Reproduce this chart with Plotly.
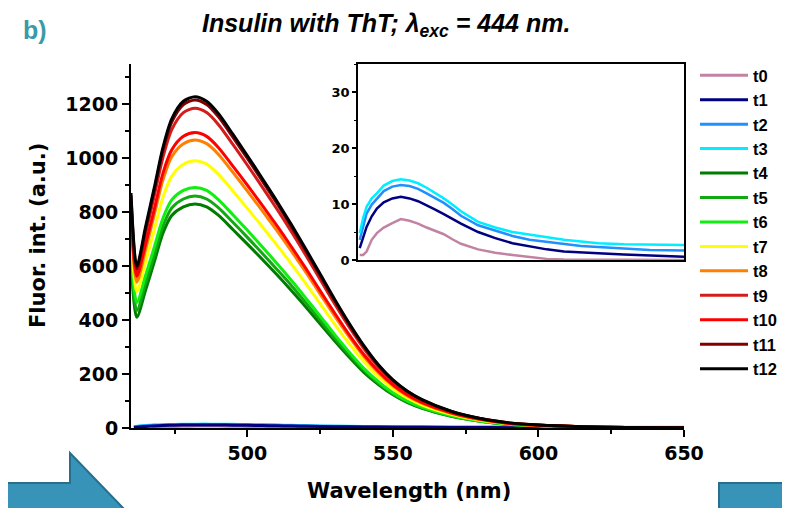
import plotly.graph_objects as go

# ---------------- data ----------------
WL = [460, 462, 465, 468, 471, 474, 478, 482, 486, 490, 495, 500, 505, 510, 515,
      520, 525, 530, 535, 540, 545, 550, 555, 560, 570, 580, 590, 600, 615, 630, 650]

t4 = [620, 410, 510, 615, 722, 787, 819, 830, 819, 788, 735, 681, 626, 569, 510,
      449, 385, 322, 262, 206, 161, 123, 94, 73, 43, 25, 13, 8, 4, 2, 1]
t5 = [650, 435, 535, 640, 748, 815, 848, 859, 848, 816, 762, 706, 648, 589, 529,
      465, 399, 333, 271, 214, 166, 126, 97, 75, 44, 25, 14, 8, 4, 2, 1]
t6 = [680, 465, 565, 670, 778, 845, 880, 891, 880, 846, 790, 732, 672, 611, 548,
      482, 414, 346, 281, 221, 172, 131, 100, 77, 46, 26, 14, 8, 4, 2, 1]
t7 = [730, 505, 615, 735, 855, 933, 977, 990, 977, 940, 878, 813, 747, 679, 609,
      536, 460, 384, 312, 246, 190, 145, 111, 85, 51, 29, 16, 9, 4, 2, 1]
t8 = [780, 540, 660, 790, 920, 1005, 1053, 1067, 1053, 1014, 947, 877, 806, 733, 657,
      578, 496, 414, 337, 265, 205, 156, 119, 92, 54, 31, 17, 10, 5, 2, 1]
t9 = [840, 578, 718, 860, 1003, 1105, 1168, 1184, 1168, 1124, 1050, 973, 894, 813, 729,
      641, 550, 459, 373, 294, 226, 172, 131, 101, 60, 34, 18, 11, 5, 2, 1]
t10 = [800, 562, 680, 810, 945, 1030, 1080, 1094, 1080, 1039, 970, 899, 826, 751, 673,
       592, 508, 425, 345, 272, 210, 160, 122, 94, 56, 32, 17, 10, 5, 2, 1]
t11 = [860, 590, 735, 880, 1030, 1133, 1198, 1215, 1198, 1153, 1077, 998, 917, 834, 747,
       657, 564, 471, 383, 302, 232, 176, 135, 104, 61, 35, 19, 11, 5, 2, 1]
t12 = [870, 600, 745, 890, 1040, 1145, 1210, 1227, 1210, 1165, 1088, 1008, 926, 842, 755,
       664, 570, 476, 387, 305, 234, 178, 136, 105, 62, 35, 19, 11, 5, 2, 1]

WL_LOW = [461, 463, 465, 468, 471, 475, 480, 485, 490, 495, 500, 505, 510, 515, 520,
          530, 540, 550, 560, 570, 580, 590, 600, 615, 630, 650]
t0 = [0.9, 0.9, 1.5, 3.6, 4.8, 5.8, 6.6, 7.3, 7.0, 6.5, 5.8, 5.2, 4.6, 3.7, 2.9,
      1.9, 1.3, 0.9, 0.6, 0.2, 0.1, 0.1, 0.0, 0.0, 0.0, 0.0]
t1 = [2.1, 4.2, 5.9, 7.8, 9.2, 10.3, 11.0, 11.3, 11.0, 10.5, 9.8, 9.0, 8.2, 7.3, 6.5,
      5.0, 3.9, 3.0, 2.4, 1.9, 1.5, 1.3, 1.2, 1.0, 0.8, 0.6]
t2 = [3.6, 6.2, 8.3, 9.9, 11.0, 12.3, 13.1, 13.4, 13.2, 12.7, 11.9, 11.1, 10.2, 9.1, 7.9,
      6.2, 5.2, 4.3, 3.6, 3.2, 2.8, 2.5, 2.3, 2.0, 1.8, 1.7]
t3 = [4.8, 7.5, 9.5, 11.0, 11.9, 13.3, 14.1, 14.4, 14.2, 13.7, 12.9, 12.0, 11.0, 9.9, 8.7,
      6.8, 5.8, 5.0, 4.5, 4.0, 3.6, 3.3, 3.0, 2.8, 2.7, 2.7]

NAMES = ["t0", "t1", "t2", "t3", "t4", "t5", "t6", "t7", "t8", "t9", "t10", "t11", "t12"]
COLORS = ["#c283a3", "#000080", "#2090ff", "#00eeff", "#007d00", "#12a812", "#11ee11",
          "#ffff00", "#ff8000", "#d41c1c", "#ff0000", "#800000", "#000000"]

X_TICKS = [500, 550, 600, 650]
Y_TICKS = [0, 200, 400, 600, 800, 1000, 1200]
INSET_Y_TICKS = [0, 10, 20, 30]

# ---------------- layout helpers ----------------
# page is shown with an 8px body margin: figure pixel = page pixel - 8
OFF = 8
W, H = 790 - OFF, 508 - OFF
L, R, T, B = 131, 684, 64, 428          # plot area in page pixels


def px(x):
    return (x - L) / (R - L)


def py(y):
    return (B - y) / (B - T)


FONT = "DejaVu Sans, Liberation Sans, Arial, sans-serif"
AFONT = "Liberation Sans, Arial, sans-serif"

fig = go.Figure()

low = [t0, t1, t2, t3]
high = [t4, t5, t6, t7, t8, t9, t10, t11, t12]

for i in [3, 2, 0, 1]:
    fig.add_trace(go.Scatter(x=WL_LOW, y=low[i], mode="lines", name=NAMES[i], legendrank=i + 1,
                             line=dict(color=COLORS[i], width=3, shape="spline", smoothing=0.8),
                             xaxis="x", yaxis="y"))
for j, ys in enumerate(high):
    i = j + 4
    fig.add_trace(go.Scatter(x=WL, y=ys, mode="lines", name=NAMES[i], legendrank=i + 1,
                             line=dict(color=COLORS[i], width=3, shape="spline", smoothing=0.8),
                             xaxis="x", yaxis="y"))
# inset
for i, ys in enumerate(low):
    fig.add_trace(go.Scatter(x=WL_LOW, y=ys, mode="lines", name=NAMES[i], showlegend=False,
                             line=dict(color=COLORS[i], width=2.5),
                             xaxis="x2", yaxis="y2"))

axis_font = dict(family=FONT, size=19, color="black", weight="bold")

fig.update_layout(
    width=W, height=H,
    margin=dict(l=L - OFF, r=W - (R - OFF), t=T - OFF, b=H - (B - OFF), pad=0, autoexpand=False),
    paper_bgcolor="white", plot_bgcolor="white",
    showlegend=True,
    legend=dict(x=px(695), y=py(58), xanchor="left", yanchor="top",
                font=dict(family=AFONT, size=16.5, color="black", weight="bold"),
                bgcolor="rgba(0,0,0,0)", borderwidth=0, tracegroupgap=0,
                itemwidth=48, maxheight=480),
    xaxis=dict(range=[460, 650], domain=[0, 1], showline=True, linecolor="black", linewidth=2,
               showgrid=False, zeroline=False, ticks="outside", ticklen=7, tickwidth=2,
               tickcolor="black", tickvals=X_TICKS, tickfont=axis_font,
               minor=dict(dtick=25, tick0=475, ticks="outside", ticklen=4, tickwidth=2,
                          tickcolor="black", showgrid=False),
               anchor="y"),
    yaxis=dict(range=[0, 1348], domain=[0, 1], showline=True, linecolor="black", linewidth=2,
               showgrid=False, zeroline=False, ticks="outside", ticklen=7, tickwidth=2,
               tickcolor="black", tickvals=Y_TICKS, tickfont=axis_font,
               minor=dict(dtick=100, ticks="outside", ticklen=4, tickwidth=2,
                          tickcolor="black", showgrid=False),
               anchor="x"),
    xaxis2=dict(range=[460, 650], domain=[px(358), 1], showline=True, mirror=True,
                linecolor="black", linewidth=1.5, showgrid=False, zeroline=False,
                showticklabels=False, ticks="", anchor="y2"),
    yaxis2=dict(range=[0, 35], domain=[py(260), 1], showline=True, mirror=True,
                linecolor="black", linewidth=1.5, showgrid=False, zeroline=False,
                ticks="outside", ticklen=4, tickwidth=1.5, tickcolor="black",
                tickvals=INSET_Y_TICKS,
                tickfont=dict(family=FONT, size=13, color="black", weight="bold"),
                minor=dict(dtick=5, ticks="outside", ticklen=2, tickwidth=1,
                           tickcolor="black", showgrid=False),
                anchor="x2"),
)

# inset background
fig.add_shape(type="rect", xref="x2 domain", yref="y2 domain", x0=0, x1=1, y0=0, y1=1,
              fillcolor="white", line=dict(width=0), layer="below")

# titles
fig.add_annotation(x=px(386), y=py(25), xref="paper", yref="paper", showarrow=False,
                   xanchor="center", yanchor="middle",
                   text="<b><i>Insulin with ThT; λ<sub>exc</sub> = 444 nm.</i></b>",
                   font=dict(family=AFONT, size=25, color="black"))
fig.add_annotation(x=px(35), y=py(30), xref="paper", yref="paper", showarrow=False,
                   xanchor="center", yanchor="middle",
                   text="<b>b)</b>", font=dict(family=AFONT, size=25, color="#3a9aa8"))
fig.add_annotation(x=px(38), y=py(236), xref="paper", yref="paper", showarrow=False,
                   xanchor="center", yanchor="middle",
                   text="<b>Fluor. int. (a.u.)</b>", textangle=-90,
                   font=dict(family=FONT, size=21, color="black"))
fig.add_annotation(x=px(409), y=py(491), xref="paper", yref="paper", showarrow=False,
                   xanchor="center", yanchor="middle",
                   text="<b>Wavelength (nm)</b>",
                   font=dict(family=FONT, size=21, color="black"))

# slide decorations (bottom-left arrow, bottom-right block)
def pth(points):
    return "M " + " L ".join(f"{px(a)},{py(b)}" for a, b in points) + " Z"


fig.add_shape(type="path", xref="paper", yref="paper",
              path=pth([(-2, 483), (70, 483), (70, 453), (125, 510), (-2, 510)]),
              fillcolor="#3794b8", line=dict(color="#276f8c", width=2))
fig.add_shape(type="rect", xref="paper", yref="paper",
              x0=px(719), x1=px(792), y0=py(510), y1=py(483),
              fillcolor="#3794b8", line=dict(color="#276f8c", width=2))

fig.write_html("out.html")
